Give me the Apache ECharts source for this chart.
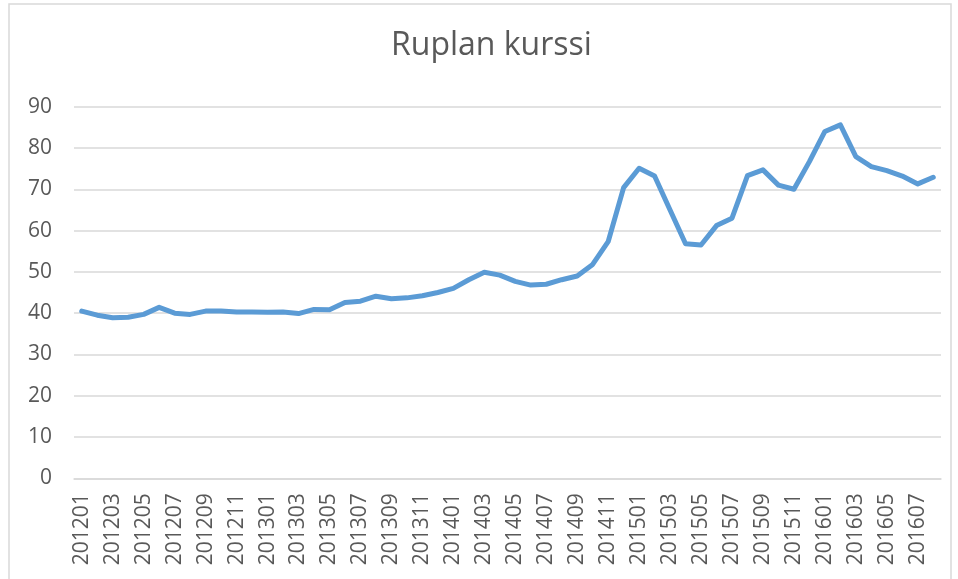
<!DOCTYPE html>
<html>
<head>
<meta charset="utf-8">
<title>Ruplan kurssi</title>
<script src="https://cdn.jsdelivr.net/npm/echarts@6/dist/echarts.min.js"></script>
<style>
  html, body { margin: 0; padding: 0; background: #fff; }
  #main { width: 958px; height: 579px; }
</style>
</head>
<body>
<div id="main"></div>
<script>
// months 201201 .. 201608
var months = [
  '201201','201202','201203','201204','201205','201206','201207','201208','201209','201210','201211','201212',
  '201301','201302','201303','201304','201305','201306','201307','201308','201309','201310','201311','201312',
  '201401','201402','201403','201404','201405','201406','201407','201408','201409','201410','201411','201412',
  '201501','201502','201503','201504','201505','201506','201507','201508','201509','201510','201511','201512',
  '201601','201602','201603','201604','201605','201606','201607','201608'
];

var rate = [
  40.5, 39.5, 38.9, 39.0, 39.7, 41.4, 40.0, 39.7, 40.5, 40.5, 40.3, 40.3,
  40.2, 40.3, 39.9, 40.9, 40.8, 42.6, 42.9, 44.1, 43.5, 43.7, 44.2, 45.0,
  46.0, 48.1, 49.9, 49.2, 47.7, 46.8, 47.0, 48.1, 49.0, 51.8, 57.3, 70.4,
  75.1, 73.2, 65.0, 56.8, 56.5, 61.2, 63.0, 73.3, 74.7, 71.0, 70.0, 76.7,
  84.0, 85.6, 77.9, 75.5, 74.5, 73.2, 71.3, 72.9
];

var yTicks = { min: 0, max: 90, step: 10 };

var chart = echarts.init(document.getElementById('main'));

var labelColor = '#595959';
var gridColor = '#d9d9d9';

var option = {
  backgroundColor: '#fff',
  animation: false,
  title: {
    text: 'Ruplan kurssi',
    left: 386,
    top: 25,
    textStyle: {
      fontFamily: 'Open Sans',
      fontSize: 32,
      fontWeight: 'normal',
      color: labelColor
    }
  },
  graphic: [{
    type: 'rect',
    shape: { x: 9, y: 4, width: 942, height: 600 },
    style: { fill: 'none', stroke: gridColor, lineWidth: 1.5 },
    silent: true
  }],
  grid: {
    left: 74,
    right: 17,
    top: 106.7,
    bottom: 100.7,
    outerBoundsMode: 'none'
  },
  xAxis: {
    type: 'category',
    data: months,
    boundaryGap: true,
    axisLine: { lineStyle: { color: gridColor, width: 1.5 } },
    axisTick: { show: false },
    axisLabel: {
      interval: 1,
      rotate: 90,
      margin: 15,
      fontFamily: 'Open Sans',
      fontSize: 21,
      color: labelColor
    }
  },
  yAxis: {
    type: 'value',
    min: yTicks.min,
    max: yTicks.max,
    interval: yTicks.step,
    axisLine: { show: false },
    axisTick: { show: false },
    splitLine: { lineStyle: { color: gridColor, width: 1.5 } },
    axisLabel: {
      margin: 22,
      fontFamily: 'Open Sans',
      fontSize: 21,
      color: labelColor
    }
  },
  series: [{
    name: 'Ruplan kurssi',
    type: 'line',
    data: rate,
    showSymbol: false,
    symbol: 'none',
    lineStyle: { color: '#5b9bd5', width: 5, join: 'round', cap: 'round' },
    itemStyle: { color: '#5b9bd5' }
  }]
};

chart.setOption(option);
</script>
</body>
</html>
